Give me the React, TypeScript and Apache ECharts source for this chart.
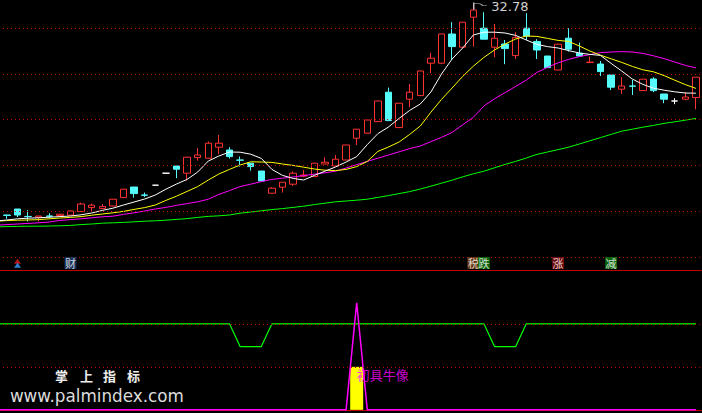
import React, { useEffect, useRef } from 'react';
import * as echarts from 'echarts';

// ---- data (67 trading days, last one at the right edge) ----
const categories: string[] = [
  'D1','D2','D3','D4','D5','D6','D7','D8','D9','D10','D11','D12','D13','D14','D15','D16','D17','D18','D19','D20',
  'D21','D22','D23','D24','D25','D26','D27','D28','D29','D30','D31','D32','D33','D34','D35','D36','D37','D38','D39','D40',
  'D41','D42','D43','D44','D45','D46','D47','D48','D49','D50','D51','D52','D53','D54','D55','D56','D57','D58','D59','D60',
  'D61','D62','D63','D64','D65','D66','D67'
];

// [open, close, low, high]
const candles: number[][] = [
  [21.93, 22.13, 21.88, 22.16], [22.18, 22.16, 21.99, 22.18], [22.48, 22.18, 22.08, 22.48], [22.11, 22.10, 21.86, 22.43],
  [22.07, 22.13, 21.86, 22.13], [22.13, 22.12, 22.02, 22.27], [22.15, 22.22, 22.13, 22.23], [22.17, 22.38, 22.15, 22.41],
  [22.35, 22.73, 22.33, 22.80], [22.55, 22.67, 22.33, 22.75], [22.50, 22.60, 22.48, 22.73], [22.63, 22.97, 22.61, 22.98],
  [23.05, 23.47, 23.03, 23.48], [23.58, 23.25, 23.05, 23.58], [23.18, 23.17, 23.08, 23.30], [23.67, 23.67, 23.67, 23.67],
  [24.27, 24.27, 24.27, 24.27], [24.63, 24.47, 24.02, 24.63], [24.27, 25.07, 23.90, 25.08], [25.05, 25.18, 24.90, 25.52],
  [25.02, 25.77, 25.01, 25.85], [25.57, 25.77, 25.23, 26.18], [25.43, 25.10, 25.00, 25.57], [24.93, 24.92, 24.60, 25.10],
  [24.77, 24.60, 24.40, 24.77], [24.38, 23.88, 23.88, 24.38], [23.27, 23.52, 23.26, 23.57], [23.57, 23.82, 23.30, 23.82],
  [23.72, 24.27, 23.63, 24.35], [24.12, 24.18, 24.07, 24.43], [24.10, 24.77, 24.08, 24.78], [24.73, 24.82, 24.72, 25.07],
  [24.63, 24.97, 24.63, 25.18], [24.93, 25.68, 24.93, 25.68], [26.02, 26.47, 25.68, 26.48], [26.27, 26.93, 26.26, 26.98],
  [26.85, 27.88, 26.83, 27.88], [28.32, 26.90, 26.88, 28.55], [26.55, 27.77, 26.53, 27.78], [27.97, 28.32, 27.57, 28.73],
  [28.15, 29.38, 28.13, 29.38], [29.77, 30.02, 29.27, 30.30], [29.77, 31.23, 29.73, 31.23], [31.23, 30.60, 29.93, 31.82],
  [30.57, 31.82, 30.56, 31.82], [32.07, 32.43, 30.60, 32.78], [31.52, 30.97, 30.97, 32.32], [30.57, 31.02, 30.07, 31.73],
  [30.73, 30.50, 29.72, 30.93], [30.15, 31.05, 29.98, 31.32], [31.52, 31.13, 30.93, 32.27], [30.85, 30.43, 29.98, 30.97],
  [30.13, 29.55, 29.55, 30.13], [29.43, 30.72, 29.43, 30.73], [31.02, 30.47, 30.35, 31.52], [30.27, 30.13, 30.10, 30.80],
  [29.81, 29.82, 29.77, 30.10], [29.73, 29.35, 29.13, 29.88], [29.18, 28.57, 28.43, 29.18], [28.47, 28.63, 28.23, 29.07],
  [28.63, 28.62, 28.18, 28.93], [28.40, 28.97, 28.38, 28.97], [28.98, 28.40, 28.32, 29.07], [28.23, 27.97, 27.77, 28.23],
  [27.88, 27.88, 27.72, 28.02], [27.97, 28.08, 27.93, 28.32], [28.05, 29.07, 27.47, 29.07]
];
const whiteDoji: number[] = [15, 16, 64];

const ma5: number[] = [21.88, 21.93, 21.99, 22.02, 22.04, 22.07, 22.10, 22.13, 22.19, 22.28, 22.41, 22.52, 22.68, 22.83, 22.98, 23.18, 23.47, 23.73, 23.96, 24.33,
  24.88, 25.13, 25.33, 25.32, 25.22, 25.01, 24.46, 24.16, 24.01, 23.93, 24.16, 24.37, 24.58, 24.83, 25.10, 25.70, 26.25, 26.58, 27.01, 27.41,
  27.73, 28.33, 29.23, 29.98, 30.53, 31.18, 31.32, 31.32, 31.28, 31.16, 30.93, 30.71, 30.60, 30.53, 30.40, 30.28, 30.21, 30.16, 29.76, 29.38,
  28.98, 28.71, 28.52, 28.42, 28.34, 28.28, 28.27];
const ma10: number[] = [21.87, 21.90, 21.92, 21.93, 21.95, 21.99, 22.03, 22.06, 22.10, 22.17, 22.23, 22.29, 22.36, 22.46, 22.55, 22.68, 22.91, 23.12, 23.36, 23.60,
  23.93, 24.23, 24.46, 24.68, 24.84, 24.83, 24.81, 24.73, 24.66, 24.57, 24.48, 24.42, 24.40, 24.46, 24.60, 24.86, 25.36, 25.58, 25.83, 26.21,
  26.63, 27.32, 27.96, 28.53, 29.11, 29.62, 30.06, 30.43, 30.73, 30.98, 31.13, 31.11, 31.01, 30.91, 30.86, 30.63, 30.38, 30.17, 29.99, 29.81,
  29.61, 29.44, 29.34, 29.15, 28.92, 28.70, 28.51];
const ma20: number[] = [21.67, 21.70, 21.73, 21.76, 21.79, 21.83, 21.91, 21.95, 21.99, 22.04, 22.09, 22.12, 22.21, 22.29, 22.38, 22.48, 22.56, 22.66, 22.75, 22.84,
  22.97, 23.21, 23.40, 23.60, 23.72, 23.85, 23.96, 24.02, 24.08, 24.15, 24.22, 24.29, 24.37, 24.53, 24.70, 24.86, 25.02, 25.18, 25.34, 25.50,
  25.63, 25.85, 26.06, 26.31, 26.69, 27.06, 27.63, 27.99, 28.30, 28.61, 28.93, 29.31, 29.56, 29.79, 29.96, 30.10, 30.20, 30.30, 30.33, 30.35,
  30.33, 30.26, 30.14, 30.00, 29.83, 29.66, 29.54];
const ma60: number[] = [21.59, 21.60, 21.61, 21.62, 21.62, 21.63, 21.64, 21.66, 21.70, 21.73, 21.77, 21.79, 21.81, 21.84, 21.87, 21.89, 21.92, 21.96, 22.00, 22.06,
  22.11, 22.14, 22.18, 22.27, 22.33, 22.39, 22.45, 22.50, 22.56, 22.62, 22.70, 22.77, 22.84, 22.88, 22.92, 22.97, 23.06, 23.15, 23.25, 23.35,
  23.48, 23.62, 23.77, 23.92, 24.09, 24.24, 24.37, 24.54, 24.71, 24.86, 25.03, 25.21, 25.33, 25.45, 25.57, 25.73, 25.89, 26.05, 26.21, 26.37,
  26.47, 26.57, 26.66, 26.76, 26.84, 26.92, 27.01];

// unlabeled dotted price levels of the main panel
const priceLevels: number[] = [31.53, 29.24, 26.95, 24.66, 22.37, 20.08];
const highLabel = { index: 45, value: 32.78 };

// event flags row
const eventLevel = 19.78;
const eventIdx: number[] = [7, 45, 46, 53, 58];
const eventText: string[] = ['财', '税', '跌', '涨', '减'];
const arrowIdx = 2;
const arrowLevels: number[] = [19.87, 19.67];

// indicator panel
const indLine: number[] = [2,2,2,2,2,2,2,2,2,2,2,2,2,2,2,2,2,2,2,2,2,2,2,1.47,1.47,1.47,2,2,2,2,2,2,2,2,2,2,2,2,2,2,2,2,2,2,2,2,2,1.47,1.47,1.47,2,2,2,2,2,2,2,2,2,2,2,2,2,2,2,2,2];
const spikeLine: number[] = [0,0,0,0,0,0,0,0,0,0,0,0,0,0,0,0,0,0,0,0,0,0,0,0,0,0,0,0,0,0,0,0,0,0,2.49,0,0,0,0,0,0,0,0,0,0,0,0,0,0,0,0,0,0,0,0,0,0,0,0,0,0,0,0,0,0,0,0];
const signalBar: (number | null)[] = [null,null,null,null,null,null,null,null,null,null,null,null,null,null,null,null,null,null,null,null,null,null,null,null,null,null,null,null,null,null,null,null,null,null,1,null,null,null,null,null,null,null,null,null,null,null,null,null,null,null,null,null,null,null,null,null,null,null,null,null,null,null,null,null,null,null,null];
const signalText = { index: 34, value: 0.81, text: '初具牛像' };
const indLevels: number[] = [1, 2];

// ---- styles / layout ----
const RED = '#ff3232';
const CYAN = '#54fcfc';
const GRID_RED = '#c00000';
const eventBg: Record<string, string> = { 财: '#1b3c6e', 税: '#7c4010', 跌: '#0c7a0c', 涨: '#8a0c0c', 减: '#0c7a0c' };
const STEP = 10.6;
const SHIFT = 3.6 + STEP / 2; // the first (partial) day sits left of the page edge

export default function App() {
  const ref = useRef<HTMLDivElement>(null);
  useEffect(() => {
    if (!ref.current) return;
    const chart = echarts.init(ref.current, undefined, { renderer: 'svg' });
    const N = categories.length;
    const gridWidth = N * STEP;

    const candleData = candles.map((c, i) =>
      whiteDoji.includes(i)
        ? { value: c, itemStyle: { color: '#ffffff', color0: '#ffffff', borderColor: '#ffffff', borderColor0: '#ffffff' } }
        : c
    );

    const dotted = { color: GRID_RED, type: [1, 3] as any, width: 1 };
    const wmFont = 'bold 13px "Noto Sans CJK SC"';

    const option: any = {
      animation: false,
      backgroundColor: '#000000',
      grid: [
        { left: 0, top: 0, width: gridWidth, height: 270 },
        { left: 0, top: 270, width: gridWidth, height: 142 },
      ],
      xAxis: [
        { type: 'category', gridIndex: 0, data: categories, axisLine: { show: true, lineStyle: { color: GRID_RED, width: 1 } }, axisTick: { show: false }, axisLabel: { show: false }, splitLine: { show: false } },
        { type: 'category', gridIndex: 1, data: categories, axisLine: { show: true, lineStyle: { color: GRID_RED, width: 1 } }, axisTick: { show: false }, axisLabel: { show: false }, splitLine: { show: false } },
      ],
      yAxis: [
        { type: 'value', gridIndex: 0, min: 19.43, max: 32.93, show: false },
        { type: 'value', gridIndex: 1, min: -0.05, max: 3.25, show: false },
      ],
      series: [
        {
          type: 'candlestick', xAxisIndex: 0, yAxisIndex: 0, data: candleData, barWidth: 7,
          itemStyle: { color: 'rgba(0,0,0,0)', color0: CYAN, borderColor: RED, borderColor0: CYAN, borderWidth: 1 },
          markLine: {
            silent: true, symbol: ['none', 'none'], label: { show: false }, lineStyle: dotted,
            data: priceLevels.map((v) => ({ yAxis: v })),
          },
          markPoint: {
            silent: true,
            data: [
              {
                coord: [highLabel.index, highLabel.value],
                symbol: 'path://M0 0 L0 7 M0 1 L4 1 Q7 1 9 3 L13 3',
                symbolSize: [13, 7], symbolOffset: [7, 3], symbolKeepAspect: false,
                itemStyle: { color: 'none', borderColor: '#c8c8c8', borderWidth: 1 },
                label: {
                  show: true, formatter: highLabel.value.toFixed(2), position: 'right', distance: 1,
                  color: '#cfcfcf', fontSize: 13, fontFamily: 'DejaVu Sans',
                },
              },
            ],
          },
          z: 2,
        },
        { type: 'line', xAxisIndex: 0, yAxisIndex: 0, data: ma60, symbol: 'none', lineStyle: { color: '#00ff00', width: 1 }, z: 3 },
        { type: 'line', xAxisIndex: 0, yAxisIndex: 0, data: ma20, symbol: 'none', lineStyle: { color: '#ff00ff', width: 1 }, z: 3 },
        { type: 'line', xAxisIndex: 0, yAxisIndex: 0, data: ma10, symbol: 'none', lineStyle: { color: '#ffff00', width: 1 }, z: 3 },
        { type: 'line', xAxisIndex: 0, yAxisIndex: 0, data: ma5, symbol: 'none', lineStyle: { color: '#ffffff', width: 1 }, z: 3 },
        {
          type: 'scatter', xAxisIndex: 0, yAxisIndex: 0, silent: true, z: 5,
          data: eventIdx.map((idx, i) => ({
            value: [idx, eventLevel], symbol: 'rect', symbolSize: [12, 12],
            itemStyle: { color: eventBg[eventText[i]] },
            label: { show: true, position: 'inside', formatter: eventText[i], color: '#ffffff', fontSize: 11, fontFamily: 'Noto Sans CJK SC' },
          })),
        },
        {
          type: 'scatter', xAxisIndex: 0, yAxisIndex: 0, silent: true, z: 5,
          data: arrowLevels.map((lv, i) => ({
            value: [arrowIdx, lv], symbol: 'triangle', symbolSize: [7, 5],
            itemStyle: { color: i === 0 ? '#e02020' : '#3aa0ff' },
          })),
        },
        // indicator panel
        {
          type: 'bar', xAxisIndex: 1, yAxisIndex: 1, data: signalBar, barWidth: 13,
          itemStyle: { color: '#ffff00' }, z: 2,
          markLine: {
            silent: true, symbol: ['none', 'none'], label: { show: false }, lineStyle: dotted,
            data: indLevels.map((v) => ({ yAxis: v })),
          },
        },
        { type: 'line', xAxisIndex: 1, yAxisIndex: 1, data: indLine, symbol: 'none', lineStyle: { color: '#00ff00', width: 1.2 }, z: 3 },
        { type: 'line', xAxisIndex: 1, yAxisIndex: 1, data: spikeLine, symbol: 'none', lineStyle: { color: '#ff00ff', width: 1.5 }, z: 3 },
        {
          type: 'scatter', xAxisIndex: 1, yAxisIndex: 1, silent: true, z: 6,
          data: [{
            value: [signalText.index, signalText.value], symbolSize: 0,
            label: { show: true, position: 'right', distance: 0, formatter: signalText.text, color: '#ff00ff', fontSize: 13, fontFamily: 'Noto Sans CJK SC' },
          }],
        },
      ],
      graphic: [
        { type: 'text', left: 55 + SHIFT, top: 369, z: 10, style: { text: '掌', fill: '#eeeeee', font: wmFont } },
        { type: 'text', left: 80 + SHIFT, top: 369, z: 10, style: { text: '上', fill: '#eeeeee', font: wmFont } },
        { type: 'text', left: 103 + SHIFT, top: 369, z: 10, style: { text: '指', fill: '#eeeeee', font: wmFont } },
        { type: 'text', left: 127 + SHIFT, top: 369, z: 10, style: { text: '标', fill: '#eeeeee', font: wmFont } },
        { type: 'text', left: 10 + SHIFT, top: 387, z: 10, style: { text: 'www.palmindex.com', fill: '#dcdcdc', font: '16.8px "DejaVu Sans"' } },
      ],
    };
    chart.setOption(option);
    return () => chart.dispose();
  }, []);
  return (
    <div
      ref={ref}
      style={{ position: 'fixed', left: -SHIFT, top: 0, width: 67 * STEP + 1, height: 413, background: '#000' }}
    />
  );
}
